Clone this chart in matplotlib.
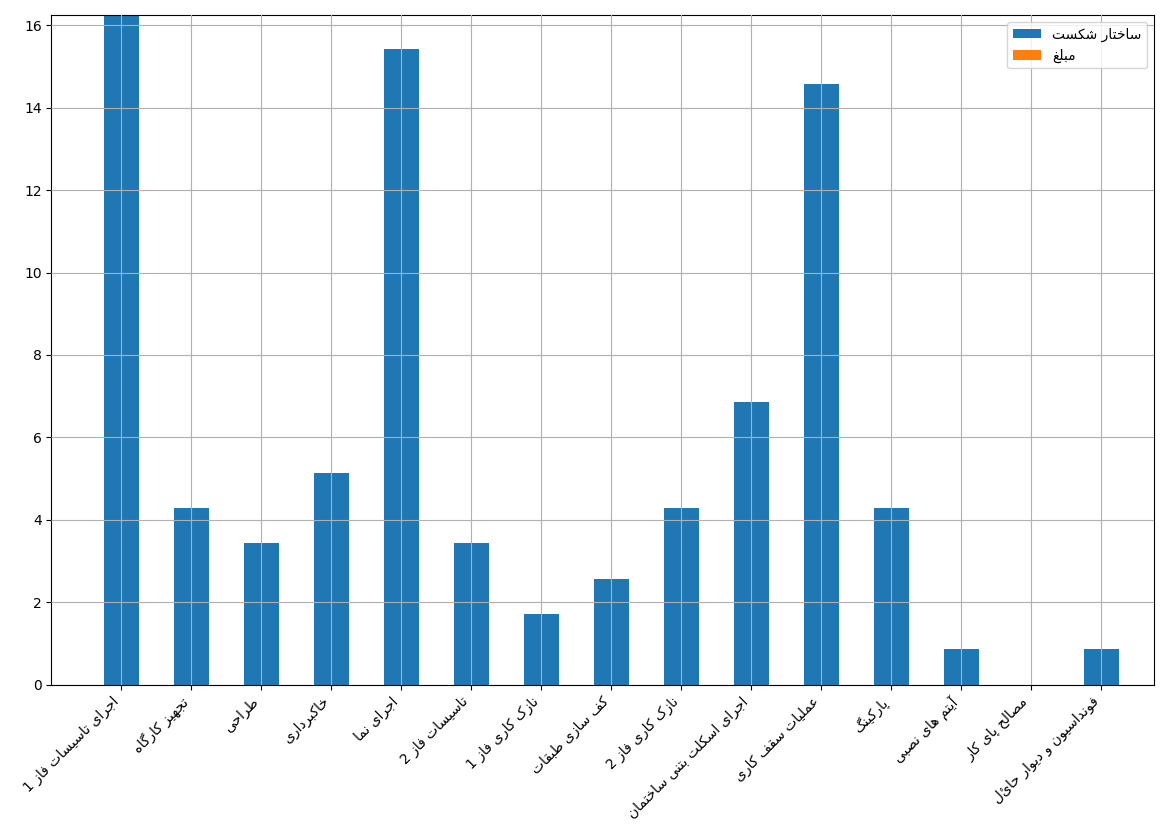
import matplotlib
matplotlib.use('Agg')
import matplotlib.pyplot as plt
import numpy as np

# حروف فارسی: (جدا، پایانی، آغازی، میانی)
FORMS = {
    'ا': (0xFE8D, 0xFE8E, None, None), 'آ': (0xFE81, 0xFE82, None, None),
    'ب': (0xFE8F, 0xFE90, 0xFE91, 0xFE92), 'پ': (0xFB56, 0xFB57, 0xFB58, 0xFB59),
    'ت': (0xFE95, 0xFE96, 0xFE97, 0xFE98), 'ث': (0xFE99, 0xFE9A, 0xFE9B, 0xFE9C),
    'ج': (0xFE9D, 0xFE9E, 0xFE9F, 0xFEA0), 'چ': (0xFB7A, 0xFB7B, 0xFB7C, 0xFB7D),
    'ح': (0xFEA1, 0xFEA2, 0xFEA3, 0xFEA4), 'خ': (0xFEA5, 0xFEA6, 0xFEA7, 0xFEA8),
    'د': (0xFEA9, 0xFEAA, None, None), 'ذ': (0xFEAB, 0xFEAC, None, None),
    'ر': (0xFEAD, 0xFEAE, None, None), 'ز': (0xFEAF, 0xFEB0, None, None),
    'ژ': (0xFB8A, 0xFB8B, None, None),
    'س': (0xFEB1, 0xFEB2, 0xFEB3, 0xFEB4), 'ش': (0xFEB5, 0xFEB6, 0xFEB7, 0xFEB8),
    'ص': (0xFEB9, 0xFEBA, 0xFEBB, 0xFEBC), 'ض': (0xFEBD, 0xFEBE, 0xFEBF, 0xFEC0),
    'ط': (0xFEC1, 0xFEC2, 0xFEC3, 0xFEC4), 'ظ': (0xFEC5, 0xFEC6, 0xFEC7, 0xFEC8),
    'ع': (0xFEC9, 0xFECA, 0xFECB, 0xFECC), 'غ': (0xFECD, 0xFECE, 0xFECF, 0xFED0),
    'ف': (0xFED1, 0xFED2, 0xFED3, 0xFED4), 'ق': (0xFED5, 0xFED6, 0xFED7, 0xFED8),
    'ک': (0xFB8E, 0xFB8F, 0xFB90, 0xFB91), 'گ': (0xFB92, 0xFB93, 0xFB94, 0xFB95),
    'ل': (0xFEDD, 0xFEDE, 0xFEDF, 0xFEE0), 'م': (0xFEE1, 0xFEE2, 0xFEE3, 0xFEE4),
    'ن': (0xFEE5, 0xFEE6, 0xFEE7, 0xFEE8), 'و': (0xFEED, 0xFEEE, None, None),
    'ه': (0xFEE9, 0xFEEA, 0xFEEB, 0xFEEC), 'ی': (0xFBFC, 0xFBFD, 0xFBFE, 0xFBFF),
}


def shape(text):
    """Reshape Persian text and reverse it for left-to-right drawing."""
    out = []
    n = len(text)
    for i, ch in enumerate(text):
        if ch not in FORMS:
            out.append(ch)
            continue
        prev = text[i - 1] if i > 0 else ''
        nxt = text[i + 1] if i < n - 1 else ''
        join_prev = prev in FORMS and FORMS[prev][2] is not None
        join_next = nxt in FORMS and FORMS[ch][2] is not None
        iso, fin, ini, med = FORMS[ch]
        if join_prev and join_next:
            code = med
        elif join_prev:
            code = fin
        elif join_next:
            code = ini
        else:
            code = iso
        out.append(chr(code))
    return ''.join(out[::-1])


categories = [
    'اجرای تاسیسات فاز 1', 'تجهیز کارگاه', 'طراحی', 'خاکبرداری', 'اجرای نما',
    'تاسیسات فاز 2', 'نازک کاری فاز 1', 'کف سازی طبقات', 'نازک کاری فاز 2',
    'اجرای اسکلت بتنی ساختمان', 'عملیات سقف کاری', 'پارکینگ', 'آیتم های نصبی',
    'مصالح پای کار', 'فونداسیون و دیوار حائل',
]
wbs_values = [16.29, 4.29, 3.43, 5.14, 15.43, 3.43, 1.71, 2.57, 4.29, 6.86,
              14.57, 4.29, 0.86, 0.0, 0.86]
amount_values = [0.0] * len(categories)

fig, ax = plt.subplots(figsize=(11.69, 8.27), dpi=100)
fig.subplots_adjust(left=0.044, right=0.987, top=0.982, bottom=0.172)

x = np.arange(len(categories))
ax.bar(x, wbs_values, width=0.5, color='#1f77b4', label=shape('ساختار شکست'), zorder=2)
ax.bar(x, amount_values, width=0.5, color='#ff7f0e', label=shape('مبلغ'), zorder=2)

ax.set_xticks(x)
ax.set_xticklabels([shape(c) for c in categories], rotation=45, ha='right')
ax.set_xlim(-1, len(categories) - 0.25)
ax.set_ylim(0, 16.25)
ax.grid(True, zorder=3)
ax.set_axisbelow(False)
ax.legend(loc='upper right')

plt.savefig('out.png', dpi=100)
